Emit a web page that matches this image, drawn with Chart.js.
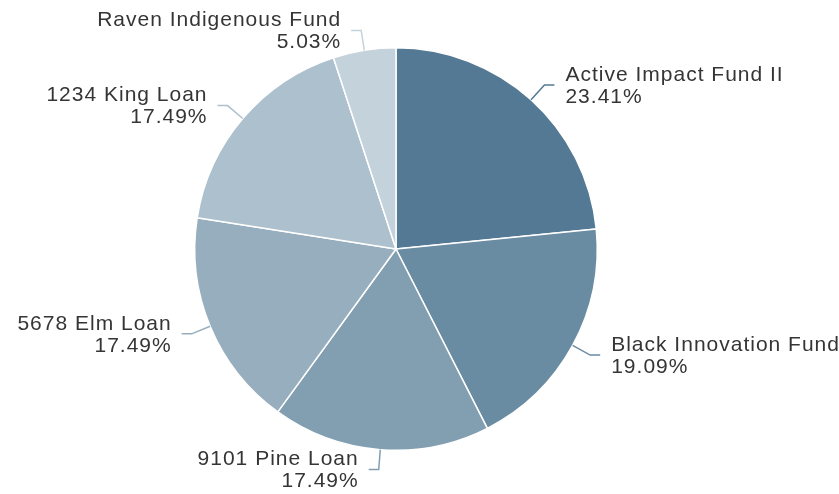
<!DOCTYPE html>
<html>
<head>
<meta charset="utf-8">
<script src="https://cdn.jsdelivr.net/npm/chart.js@4/dist/chart.umd.min.js"></script>
<style>
  html, body { margin: 0; padding: 0; background: #fff; }
  #wrap { width: 839px; height: 494px; }
</style>
</head>
<body>
<div id="wrap"><canvas id="fundPie" width="839" height="494"></canvas></div>
<script>
// portfolio allocation by fund (percent)
const fundNames = [
  'Active Impact Fund II',
  'Black Innovation Fund',
  '9101 Pine Loan',
  '5678 Elm Loan',
  '1234 King Loan',
  'Raven Indigenous Fund'
];
const fundShares = [23.41, 19.09, 17.49, 17.49, 17.49, 5.03];
const sliceColors = ['#547995', '#6a8ca3', '#819fb1', '#97aebe', '#adc0cd', '#c4d2dc'];

// draws outside labels with crooked connector lines
const outsideLabels = {
  id: 'outsideLabels',
  afterDatasetsDraw(chart) {
    const ctx = chart.ctx;
    const meta = chart.getDatasetMeta(0);
    ctx.save();
    meta.data.forEach((arc, i) => {
      const mid = (arc.startAngle + arc.endAngle) / 2;
      const r = arc.outerRadius;
      const cos = Math.cos(mid), sin = Math.sin(mid);
      const side = cos >= 0 ? 1 : -1;

      const ex = arc.x + r * cos, ey = arc.y + r * sin;
      const bx = arc.x + (r + 20) * cos, by = arc.y + (r + 20) * sin;
      const hx = bx + side * 10;

      // connector
      ctx.strokeStyle = sliceColors[i];
      ctx.lineWidth = 1.5;
      ctx.beginPath();
      ctx.moveTo(ex, ey);
      ctx.lineTo(bx, by);
      ctx.lineTo(hx, by);
      ctx.stroke();

      // text
      ctx.fillStyle = '#353535';
      ctx.font = '21px "Liberation Sans", Arial, sans-serif';
      ctx.letterSpacing = '1px';
      ctx.textAlign = side > 0 ? 'left' : 'right';
      ctx.textBaseline = 'middle';
      const tx = side > 0 ? bx + 21 : bx - 20;
      ctx.fillText(fundNames[i], tx, by - 10);
      ctx.fillText(fundShares[i].toFixed(2) + '%', tx, by + 12);
    });
    ctx.restore();
  }
};

new Chart(document.getElementById('fundPie').getContext('2d'), {
  type: 'pie',
  data: {
    labels: fundNames,
    datasets: [{
      data: fundShares,
      backgroundColor: sliceColors,
      borderColor: '#ffffff',
      borderWidth: 1.5
    }]
  },
  options: {
    responsive: false,
    animation: false,
    layout: {
      padding: { top: 47, bottom: 43, left: 100, right: 147 }
    },
    plugins: {
      legend: { display: false },
      tooltip: { enabled: false }
    }
  },
  plugins: [outsideLabels]
});
</script>
</body>
</html>
